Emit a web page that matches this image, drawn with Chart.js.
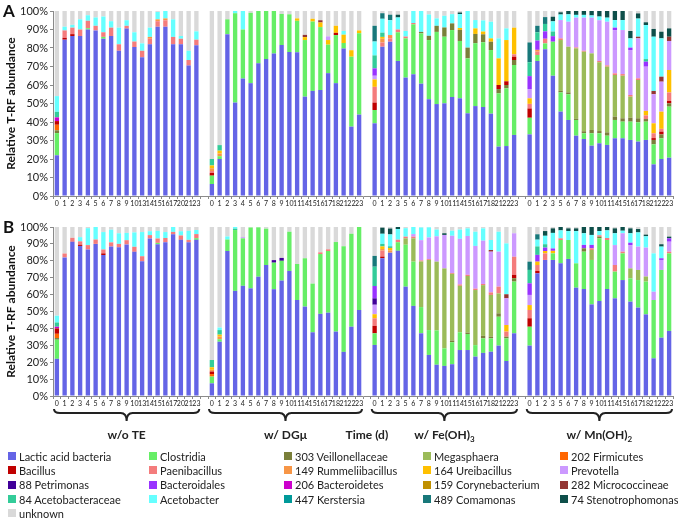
<!DOCTYPE html>
<html>
<head>
<meta charset="utf-8">
<script src="https://cdn.jsdelivr.net/npm/chart.js@4.4.1/dist/chart.umd.min.js"></script>
<style>
  body { margin: 0; width: 678px; height: 520px; background: #fff; position: relative; overflow: hidden;
         font-family: Lato, 'Open Sans', sans-serif; color: #222; }
  .wrap { position: absolute; left: 0; width: 678px; }
  #wrapA { top: 0; height: 215px; }
  #wrapB { top: 215px; height: 245px; }
  .tag { position: absolute; left: 3px; font: bold 17px Lato, sans-serif; color: #111; }
  #legend { position: absolute; left: 8px; top: 449px; display: grid;
            grid-template-columns: 141px 135px 139px 137px 118px; grid-auto-rows: 14.3px; font-size: 11px; }
  .item { display: flex; align-items: center; white-space: nowrap; }
  .sw { width: 8px; height: 8px; margin-right: 3px; flex: none; }
</style>
</head>
<body>
<div class="wrap" id="wrapA"><canvas id="chartA" width="678" height="215"></canvas></div>
<div class="wrap" id="wrapB"><canvas id="chartB" width="678" height="245"></canvas></div>
<div class="tag" style="top:0px">A</div>
<div class="tag" style="top:216px">B</div>
<div id="legend"></div>

<script>
// ── Categories ──
const teDays = ['0','1','2','3','4','5','6','7','8','9','10','13','14','15','16','17','20','21','23'];
const dgDays = ['0','1','2','3','4','5','6','7','8','9','10','11','14','15','16','17','18','21','22','23'];
const feDays = ['0','1','2','3','5','6','7','8','9','10','11','14','15','16','17','18','21','22','23'];
const mnDays = ['0','1','2','3','5','6','7','8','9','10','11','14','15','16','17','18','21','22','23'];
const groupNames = ['w/o TE', 'w/ DGμ', 'w/ Fe(OH)', 'w/ Mn(OH)'];
const groupSubs  = ['', '', '3', '2'];
const axisTitle = 'Time (d)';

const taxa = ['Lactic acid bacteria', 'Clostridia', '303 Veillonellaceae', 'Megasphaera', '202 Firmicutes',
  'Bacillus', 'Paenibacillus', '149 Rummeliibacillus', '164 Ureibacillus', 'Prevotella',
  '88 Petrimonas', 'Bacteroidales', '206 Bacteroidetes', '159 Corynebacterium', '282 Micrococcineae',
  '84 Acetobacteraceae', 'Acetobacter', '447 Kerstersia', '489 Comamonas', '74 Stenotrophomonas', 'unknown'];
const taxaColors = ['#6464e6', '#66ee66', '#7a7f3a', '#9bbb59', '#ff6600',
  '#c00000', '#f47c7c', '#f79646', '#ffc000', '#cc99ff',
  '#400099', '#9933ff', '#cc00cc', '#c09000', '#943634',
  '#33cc99', '#66ffff', '#009999', '#18787a', '#0e4f4a', '#d9d9d9'];

// ── Panel A values (%), one inner array per treatment group ──
const aLactic = [
  [22, 84.5, 86.5, 86.5, 90, 89.5, 85, 86.5, 78.5, 90.5, 80.5, 75, 82, 91.5, 91.5, 82, 82, 70.5, 81.5],
  [6.5, 20, 87.5, 50.5, 63.5, 61, 71.7, 74, 77, 81.6, 77.8, 77.7, 53.7, 56.8, 57.3, 66.4, 61, 79.7, 37.5, 44],
  [39.3, 80.7, 83.4, 73, 64, 65.8, 60.7, 52.3, 49.7, 50.1, 53.5, 52.8, 44.7, 48.6, 48.1, 44.5, 26.7, 27, 33],
  [33.3, 73, 79.3, 65, 45.6, 41.1, 32.6, 30.8, 27.2, 28.5, 27.6, 31.2, 31.2, 30.3, 29.4, 30.3, 17.1, 20, 20.7]
];
const aClostridia = [
  [12, 0, 0, 0, 0.7, 0, 1],
  [4.5, 1.5, 8, 48.3, 26.5, 38, 28.3, 26, 23, 16.8, 20.4, 17, 30.6, 37.5, 34, 15.4, 26, 3, 37.8, 44],
  [7.2, 0, 0, 15.5, 21.2, 27, 27.2, 32, 39, 36, 36.2, 31, 29.7, 34, 35, 34.4, 28.8, 31.2, 37.8],
  [9, 3.2, 3.2, 18.4, 10.4, 13.9, 8.5, 3.1, 6.7, 5.4, 5, 9.9, 9, 9.9, 10.4, 9.9, 10.8, 11.2, 27.6]
];
const aVeillon = [[1.5], [],
  [0, 0, 0, 0, 0, 0, 0.8, 2.3, 3.3, 5, 3.6, 6, 5.8, 5, 4.3, 4.5, 2.3, 1.8, 2.7],
  [0, 0, 0, 0, 0.8, 1, 0.6, 1.1, 1.8, 1.2, 1.8, 1.8, 1.8, 2.1, 2.2, 1.4, 2.4, 2.1, 1.8]];
const aMegasph = [[], [], [], [0, 0, 0, 0, 27.5, 24.7, 38.1, 43, 41.4, 37.2, 35.5, 22.5, 23, 11.4, 20.7]];
const aFirmic = [[3], [], [], []];
const aBacillus = [[2, 1, 1],
  [1.5, 0, 0, 0, 0, 0, 0, 0, 0, 0, 0, 0, 0, 0, 0, 0, 1.2],
  [4, 0, 0, 0, 0, 0, 0, 0, 0, 0, 0, 0, 0, 0, 0, 0, 2.2, 2, 1.8],
  [5, 0, 0, 0, 0, 0, 0, 0, 0, 0, 0, 0, 0, 0, 0, 0, 1, 1.5, 1.3]];
const aPaeni = [
  [0, 4, 3.5, 3.5, 4, 2.5, 2.5, 4.5, 3.5, 1.5, 3, 3.5, 3, 3, 3.5, 4, 3, 3, 3],
  [1],
  [8.5, 2.3, 1.8, 1.5, 1, 0.7, 0, 0, 0, 0, 0, 0, 0, 0, 0, 0, 0, 0, 1.3],
  [2.5, 1.8, 2.5, 0, 0.9, 0, 0.5, 0.5, 0, 0.7, 0.7, 0.9, 0.9, 0.9, 0.9, 2, 2.6, 1.5, 4.6]];
const a149 = [[0, 0, 0, 0, 0, 0, 0, 0, 0, 0, 0, 0, 1, 1, 1], [1.5, 1.5], [0, 2, 1.8], [0, 1]];
const a164 = [[],
  [1.5, 1.5, 0, 0, 0, 0, 0, 0, 0, 0, 0, 1.3, 1.6, 1.5, 2.5, 2.5, 3.8, 4.5, 3.5, 1.5],
  [4, 1, 0, 0, 0, 0, 0, 0, 0, 0, 0, 1, 0, 3, 1.5, 1.8, 14.4, 22.3, 14.4],
  [3, 0, 0, 0, 0, 0, 0, 0, 0, 0, 0, 0, 0, 0, 0, 2.4, 5.4, 9.3, 12.1]];
const aPrevotella = [[], [0, 0, 0, 0, 0, 0, 0, 0, 0, 0, 0, 0, 0, 0, 0, 2], [2],
  [5, 0, 0, 0, 9.9, 13.5, 16.1, 17.9, 19.3, 22, 23.6, 23.4, 23.8, 24.3, 21.6, 23.9, 15.7, 16.2, 15.7]];
const a88 = [[], [], [], []];
const aBacteroidales = [[], [], [4], [7, 5, 4, 3, 0, 0, 0, 0, 0, 0, 0, 1.3, 0, 1.3, 0, 2.7]];
const a206 = [[2], [], [], []];
const a159 = [[], [], [], []];
const a282 = [[], [0, 0, 0, 0, 0, 0, 0, 0, 0, 0, 0, 0, 1.2, 0, 1.2], [],
  [0, 0, 0, 0, 0, 0, 0, 0, 0, 0, 0, 0, 0, 0, 0.9, 0, 1.8, 2.7, 2.3]];
const a84 = [[3], [3.5, 3], [7, 2.3], [7.5, 4.5, 4, 2.5, 0, 0, 0, 0, 0, 0, 0, 0, 0, 0, 0, 1.4]];
const aAcetobacter = [
  [8.5, 2, 1.5, 5.5, 3, 4.5, 8.5, 3.5, 9, 3, 5, 4, 5, 4, 4, 9.5, 1.5, 5, 4.5],
  [0, 0, 0, 1.2, 10, 0, 0, 0, 0, 0, 0, 0, 0, 0, 0, 0, 0, 2],
  [7.5, 7.5, 8, 6.5, 3, 6.5, 11.3, 11.5, 4, 6.3, 5, 7.5, 19.8, 4.5, 6, 9, 10.8, 6.3],
  [0, 0, 0, 5.5, 3, 4, 1.5, 1.5, 1.2, 2, 2.2, 4.1, 5.4, 5, 9.8, 18.4, 29.3, 20.7]];
const a447 = [[], [], [], []];
const a489 = [[], [], [8.5, 3, 3], [10.7, 3.5, 3.7]];
const a74 = [[], [], [0, 0, 0, 1.5, 0, 0, 0, 0, 0, 0, 0, 0.9],
  [0, 0, 0, 2.5, 1.2, 1.8, 2.1, 2.1, 2.4, 3, 3.6, 4.9, 4.9, 4, 2.8, 1.5, 4.2, 3.6, 4.5]];
const aUnknown = [
  [46, 8.5, 7.5, 4.5, 2.3, 3.5, 3, 5.5, 9, 5, 11.5, 17.5, 9, 0.5, 0, 4.5, 13.5, 21.5, 11],
  [80, 72.5, 4.5, 0, 0, 1, 0, 0, 0, 1.6, 1.8, 4, 12.9, 4.2, 5, 13.7, 8, 10.8, 21.2, 10.5],
  [8, 1.2, 2, 2, 10.8, 0, 0, 1.9, 4, 2.6, 1.7, 0.8, 0, 4.9, 5.1, 5.8, 14.8, 9.4, 9],
  [17, 8, 3.3, 3.1, 0.7, 0, 0, 0, 0, 0, 0, 0, 0, 10.8, 1.3, 6.1, 9.7, 11.2, 9.4]];

// ── Panel B values (%) ──
const bLactic = [
  [22, 82, 91.2, 88.8, 86.7, 90, 83.4, 88.5, 88, 89.7, 85.3, 79.7, 93.2, 89.8, 91, 95.7, 92.4, 91, 92.4],
  [7.5, 32.1, 85.8, 62.2, 65.2, 63.7, 70.6, 77.5, 63.2, 68.3, 74, 56.8, 52.9, 37.7, 48.6, 49.3, 38.1, 26.1, 41, 50.9],
  [30.2, 81.5, 84.8, 85.9, 64.7, 53.3, 37.1, 24.3, 18.5, 17.8, 18.8, 27.2, 27.2, 23.3, 25.5, 26.2, 29.8, 20.7, 37.1],
  [29.8, 72.6, 80.5, 80.5, 78.5, 81.1, 64.1, 63.3, 54.2, 56.2, 63.3, 57.8, 68.6, 55.8, 52.3, 48.3, 22.3, 34.5, 38.5]];
const bClostridia = [
  [11.3, 0, 0, 0, 0, 0, 0, 0, 0, 0, 0, 0, 0, 0.8, 0, 0, 0, 0, 1],
  [4, 1.5, 6.8, 36, 28.1, 36, 29.2, 21.5, 15.7, 11.7, 23.2, 21.3, 28.6, 28.8, 35.4, 36.5, 53, 62.5, 55, 49.1],
  [6.9, 0, 0, 5.1, 24.8, 26.2, 15.5, 14.7, 20.3, 10.4, 13, 10.5, 9.5, 6.8, 8.6, 7.9, 17.1, 13.4, 30.6],
  [11.2, 0, 0, 3.9, 13.8, 11.2, 14.4, 22.1, 26.3, 37.1, 29, 15.8, 15.8, 13.8, 16.3, 19.4, 34.5, 40.1, 45.9]];
const bVeillon = [[1], [], [0, 0, 0, 0, 0, 0, 0, 0, 0, 0, 1, 0, 0.8, 0, 1.5, 1, 2, 1, 2], [0, 0, 0, 0, 0, 0, 0, 2, 0, 1]];
const bMegasph = [[], [],
  [0, 0, 0, 0, 3.8, 13.8, 27, 41.5, 40.7, 47.3, 39.5, 27.5, 33.5, 32.6, 30, 24.7, 11.8],
  [0, 0, 0, 0, 0, 0, 0, 0, 5.9, 0, 0, 0, 0, 5.9, 6, 3]];
const bFirmic = [[2.5], [1.5], [], []];
const bBacillus = [[3.2, 0, 0, 0.7, 0, 0, 1], [1.5],
  [4.4, 1, 0, 0, 0, 0, 0, 0, 0, 0, 0, 0, 0, 0, 0, 0, 0, 0, 2], [5, 1.4]];
const bPaeni = [
  [0, 2.3, 2.4, 2, 2.6, 2.6, 2.3, 2.4, 2, 2.5, 3, 3, 2, 2.6, 2.5, 1.4, 2.6, 1.4, 2.4],
  [0, 0, 0, 0, 0, 0, 0, 0, 0, 0, 0, 0, 0, 0, 1, 1],
  [4.5, 3.5, 0, 1.5, 1, 1, 0.6, 0.5, 0, 0, 0.5, 0.8, 0.7, 0.8, 0.7, 1.5, 4, 3, 10.7],
  [4.9, 3.5, 3.9, 0, 1, 0, 0, 0, 1, 0.8, 1.2, 3.9, 1, 0, 0, 0, 0, 0, 1]];
const b149 = [[], [1, 1.5], [0, 1, 1.3], []];
const b164 = [[], [1.5, 1.2], [2.4, 1.5, 1.5, 0, 0, 0, 0, 0, 0, 0, 0, 0, 0, 0, 0, 0, 0, 3.9], [2.9, 2, 1.4, 1.5]];
const bPrevotella = [[], [0, 0, 0, 0, 0.7],
  [5.6, 0, 0, 0, 0, 1.5, 12, 12.8, 15, 19.8, 22, 27, 23, 25.3, 25.6, 24.1, 20.7, 15.8, 13.9],
  [6, 0, 0, 0, 0, 0, 0, 0, 0, 0, 0, 11.8, 10.9, 13.8, 13.8, 17.1, 4.9, 5.9, 5.9]];
const b88 = [[], [0, 0, 0, 0, 0, 0, 0, 0, 1.5, 1.7], [3.8], []];
const bBacteroidales = [[], [], [7.3], [6.9, 4, 2, 1.4, 0, 0, 0, 2, 2, 0, 0, 0, 0, 1.4, 0, 0, 0, 1, 2]];
const b206 = [[1], [], [], []];
const b159 = [[], [], [], []];
const b282 = [[], [], [0, 0, 0, 0, 0, 0, 0, 0, 0, 0, 0, 0, 0, 0, 0, 1, 0, 2.4], []];
const b84 = [[2.5], [4.3, 2.7, 0, 0.8], [11.4, 1.5, 1], [7.9, 5, 2]];
const bAcetobacter = [
  [4, 0, 0, 2.5, 10, 7.4, 10.3, 7.5, 6.3, 4.3, 8.5, 14.3, 2.3, 4.5, 3.5, 2.9, 2.5, 5.3, 2.4],
  [0, 1.5, 1.8, 1],
  [0, 6, 7, 6.3, 5, 4.2, 7.5, 6, 4, 0, 3, 5.5, 4.5, 8.4, 7.3, 5.9, 11.8, 30.1],
  [0, 4, 5, 9.2, 4.7, 5.3, 19.1, 6.9, 5.9, 2.5, 4.5, 7, 1.5, 5.6, 8.4, 6.7, 22.7, 6.9]];
const b447 = [[], [], [], []];
const b489 = [[], [], [6.4], [4.9, 3.2]];
const b74 = [[], [], [0, 3.6, 3.5, 1.2, 0, 0, 0, 0, 0, 1],
  [0, 0, 2.8, 2.7, 2, 1.6, 1.6, 3.7, 4.7, 2.4, 2, 2.9, 2.2, 2.9, 2, 1, 0, 1.4, 1]];
const bUnknown = [
  [52.5, 15.7, 6.4, 6, 0.7, 0, 3, 1.6, 3.7, 3.5, 3.2, 3, 2.5, 2.3, 3, 0, 2.5, 2.3, 1.8],
  [78.7, 59.5, 5.6, 0, 6, 0.3, 0.2, 1, 19.6, 18.3, 2.8, 21.9, 18.5, 33.5, 15, 13.2, 8.9, 11.4, 4, 0],
  [17.1, 0.4, 0.9, 0, 0.7, 0, 0.3, 0.2, 1.5, 3.7, 2.2, 1.5, 0.8, 2.8, 0.8, 7.7, 2.8, 9.7, 3.7],
  [20.5, 4.3, 2.4, 0.8, 0, 0.8, 0.8, 0, 0, 0, 0, 0.8, 0, 0.8, 1.2, 4.5, 15.6, 10.2, 5.7]];

const seriesA = [aLactic, aClostridia, aVeillon, aMegasph, aFirmic, aBacillus, aPaeni, a149, a164, aPrevotella,
  a88, aBacteroidales, a206, a159, a282, a84, aAcetobacter, a447, a489, a74, aUnknown];
const seriesB = [bLactic, bClostridia, bVeillon, bMegasph, bFirmic, bBacillus, bPaeni, b149, b164, bPrevotella,
  b88, bBacteroidales, b206, b159, b282, b84, bAcetobacter, b447, b489, b74, bUnknown];

// ── Helpers ──
const groupDays = [teDays, dgDays, feDays, mnDays];
const xLabels = [];
groupDays.forEach((days, g) => {
  if (g > 0) xLabels.push('');
  xLabels.push(...days);
});

// one empty slot between treatment groups
function withGaps(groups) {
  const out = [];
  groupDays.forEach((days, g) => {
    if (g > 0) out.push(null);
    const vals = groups[g] || [];
    days.forEach((d, i) => out.push(vals[i] ?? 0));
  });
  return out;
}

function groupRanges() {
  const ranges = [];
  let idx = 0;
  groupDays.forEach((days, g) => {
    if (g > 0) idx++;
    ranges.push([idx, idx + days.length - 1]);
    idx += days.length;
  });
  return ranges;
}

function buildDatasets(series) {
  return taxa.map((name, i) => ({
    label: name,
    data: withGaps(series[i]),
    backgroundColor: taxaColors[i],
    borderWidth: 0,
    barPercentage: 0.56,
    categoryPercentage: 1.0
  }));
}

// ── Braces and group names under panel B ──
const bracePlugin = {
  id: 'braces',
  afterDraw(chart) {
    const { ctx, chartArea } = chart;
    const x = chart.scales.x;
    const half = (x.getPixelForValue(1) - x.getPixelForValue(0)) / 2;
    const yTop = chartArea.bottom + 13, yLine = yTop + 4, yTip = yTop + 12;
    const yText = chartArea.bottom + 39;

    ctx.save();
    ctx.strokeStyle = '#222';
    ctx.lineWidth = 2;
    ctx.fillStyle = '#222';
    ctx.textBaseline = 'middle';

    groupRanges().forEach(([a, b], g) => {
      const x0 = x.getPixelForValue(a) - half + 1;
      const x1 = x.getPixelForValue(b) + half - 1;
      const xm = (x0 + x1) / 2, r = 6;
      ctx.beginPath();
      ctx.moveTo(x0, yTop);
      ctx.quadraticCurveTo(x0, yLine, x0 + r, yLine);
      ctx.lineTo(xm - r, yLine);
      ctx.quadraticCurveTo(xm, yLine, xm, yTip);
      ctx.quadraticCurveTo(xm, yLine, xm + r, yLine);
      ctx.lineTo(x1 - r, yLine);
      ctx.quadraticCurveTo(x1, yLine, x1, yTop);
      ctx.stroke();

      // name with optional subscript
      ctx.font = 'bold 12px Lato, sans-serif';
      const main = groupNames[g];
      const wMain = ctx.measureText(main).width;
      ctx.font = 'bold 8px Lato, sans-serif';
      const wSub = groupSubs[g] ? ctx.measureText(groupSubs[g]).width : 0;
      const start = xm - (wMain + wSub) / 2;
      ctx.font = 'bold 12px Lato, sans-serif';
      ctx.textAlign = 'left';
      ctx.fillText(main, start, yText);
      if (groupSubs[g]) {
        ctx.font = 'bold 8px Lato, sans-serif';
        ctx.fillText(groupSubs[g], start + wMain, yText + 4);
      }
    });

    // axis label sits in the gap between the 2nd and 3rd group
    const gapIdx = groupRanges()[2][0] - 1;
    ctx.font = 'bold 12px Lato, sans-serif';
    ctx.textAlign = 'center';
    ctx.fillText(axisTitle, x.getPixelForValue(gapIdx), yText);
    ctx.restore();
  }
};

function makeChart(id, series, xHeight, padding, plugins) {
  return new Chart(document.getElementById(id), {
    type: 'bar',
    data: { labels: xLabels, datasets: buildDatasets(series) },
    plugins: plugins,
    options: {
      responsive: false,
      animation: false,
      layout: { padding: padding },
      plugins: { legend: { display: false }, tooltip: { enabled: false } },
      scales: {
        x: {
          stacked: true,
          afterFit: s => { s.height = xHeight; },
          grid: { drawOnChartArea: false, drawTicks: true, tickLength: 3, color: '#8a8a8a', offset: true },
          border: { color: '#8a8a8a' },
          ticks: { autoSkip: false, maxRotation: 0, minRotation: 0, padding: 1,
                   font: { family: 'Lato', size: 7 }, color: '#222' }
        },
        y: {
          stacked: true,
          min: 0, max: 100,
          afterFit: s => { s.width = 53; },
          grid: { drawOnChartArea: false, drawTicks: true, tickLength: 3, color: '#8a8a8a' },
          border: { color: '#8a8a8a' },
          ticks: { stepSize: 10, padding: 2, callback: v => v + '%',
                   font: { family: 'Lato', size: 11 }, color: '#222' },
          title: { display: true, text: 'Relative T-RF abundance', color: '#111',
                   font: { family: 'Lato', size: 12, weight: 'bold' }, padding: { top: 4, bottom: 0 } }
        }
      }
    }
  });
}

makeChart('chartA', seriesA, 19, { top: 11, right: 5, bottom: 0, left: 0 }, []);
makeChart('chartB', seriesB, 14, { top: 12, right: 5, bottom: 50, left: 0 }, [bracePlugin]);

// ── Legend ──
const legendEl = document.getElementById('legend');
taxa.forEach((name, i) => {
  const item = document.createElement('div');
  item.className = 'item';
  item.innerHTML = `<span class="sw" style="background:${taxaColors[i]}"></span><span></span>`;
  item.lastChild.textContent = name;
  legendEl.appendChild(item);
});
</script>
</body>
</html>
